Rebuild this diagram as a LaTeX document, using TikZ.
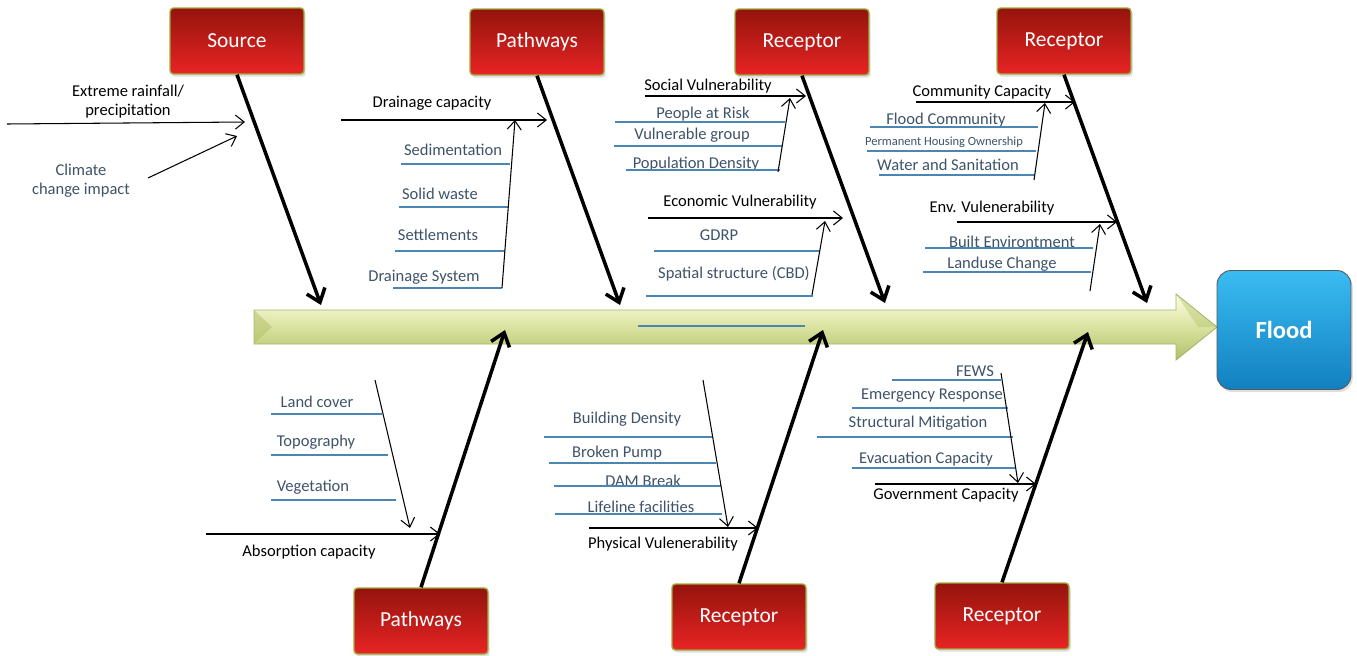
\documentclass[tikz,border=0pt]{standalone}
\usepackage{fontspec}
\setmainfont{Carlito}
\usetikzlibrary{arrows.meta,shadows}
\definecolor{boxtop}{RGB}{148,20,12}
\definecolor{boxbot}{RGB}{232,36,36}
\definecolor{boxrim}{RGB}{160,170,60}
\definecolor{subtext}{RGB}{62,82,104}
\definecolor{uline}{RGB}{74,134,180}
\definecolor{spinetop}{RGB}{255,255,228}
\definecolor{spinemid}{RGB}{218,226,160}
\definecolor{spinebot}{RGB}{176,192,104}
\definecolor{floodtop}{RGB}{58,188,242}
\definecolor{floodbot}{RGB}{18,128,192}

\begin{document}
\begin{tikzpicture}
[x=0.02cm, y=-0.02cm,
 redbox/.style={draw=boxrim, line width=0.8pt, rounded corners=2pt, top color=boxtop, bottom color=boxbot,
   minimum width=2.68cm, minimum height=1.32cm, inner sep=0pt, text=white,
   font=\fontsize{12.2}{14}\selectfont, drop shadow={opacity=0.25, shadow xshift=1pt, shadow yshift=-1.5pt}},
 cat/.style={font=\fontsize{9.4}{11}\selectfont, inner sep=0pt, align=center, yshift=-0.8pt},
 item/.style={cat, text=subtext},
 uline/.style={draw=uline, line width=0.7pt},
 bone/.style={line width=2pt, -{Straight Barb[length=7pt, width=11pt, line width=2pt]}},
 sub/.style={line width=0.6pt, -{Straight Barb[length=5pt, width=8pt]}}
 ]
\useasboundingbox (0,0) rectangle (1357,656);
% spine
\draw [draw=spinebot!80!gray, line width=0.5pt, top color=spinetop, bottom color=spinebot, middle color=spinemid]
  (254,310) -- (1176,310) -- (1176,294) -- (1217,327) -- (1176,360) -- (1176,344) -- (254,344) -- cycle;
\fill [spinebot, opacity=0.5] (254,310) -- (272,327) -- (254,344) -- cycle;
\fill [spinebot, opacity=0.4] (1176,294) -- (1198,327) -- (1217,327) -- cycle;
\draw [uline] (638,326) -- (805,326);
\node [draw=gray!70!black, line width=0.5pt, rounded corners=8pt, top color=floodtop, bottom color=floodbot,
  minimum width=2.68cm, minimum height=2.38cm, text=white, font=\fontsize{14}{16}\selectfont\bfseries,
  drop shadow={opacity=0.25, shadow xshift=1pt, shadow yshift=-1.5pt}] (flood) at (1284,330) {Flood};
% cause boxes
\node [redbox] (src) at (237,41) {Source};
\node [redbox] (pwt) at (537,42) {Pathways};
\node [redbox] (rct1) at (802,42) {Receptor};
\node [redbox] (rct2) at (1064,41) {Receptor};
\node [redbox] (pwb) at (421,621) {Pathways};
\node [redbox] (rcb1) at (739,617) {Receptor};
\node [redbox] (rcb2) at (1002,616) {Receptor};
\coordinate (srcend) at (321,305);
\coordinate (pwtend) at (620,305);
\coordinate (rct1end) at (885,303);
\coordinate (rct2end) at (1147,303);
\coordinate (pwbend) at (505,330);
\coordinate (rcb1end) at (823,330);
\coordinate (rcb2end) at (1088,332);
\draw [bone] (src.south) -- (srcend);
\draw [bone] (pwt.south) -- (pwtend);
\draw [bone] (rct1.south) -- (rct1end);
\draw [bone] (rct2.south) -- (rct2end);
\draw [bone] (pwb.north) -- (pwbend);
\draw [bone] (rcb1.north) -- (rcb1end);
\draw [bone] (rcb2.north) -- (rcb2end);
% source
\node [cat] (rain) at (128,100) {Extreme rainfall/\\precipitation};
\node [item] (climate) at (81,179) {Climate\\change impact};
\coordinate (rain0) at (7,124);
\coordinate (rain1) at (245,122);
\coordinate (clim0) at (148,178);
\coordinate (clim1) at (237,136);
\draw [sub] (rain0) -- (rain1);
\draw [sub] (clim0) -- (clim1);
% pathways top
\node [cat] (drcap) at (432,102) {Drainage capacity};
\coordinate (drcap0) at (341,120);
\coordinate (drcap1) at (547,120);
\draw [sub] (drcap0) -- (drcap1);
\node [item] (sed) at (453,148) {Sedimentation};
\node [item] (solid) at (440,192) {Solid waste};
\node [item] (settle) at (438,233) {Settlements};
\node [item] (drsys) at (424,276) {Drainage System};
\draw [uline] (401,164) -- (510,164);
\draw [uline] (399,207) -- (508,207);
\draw [uline] (395,251) -- (505,251);
\draw [uline] (393,288) -- (502,288);
\coordinate (dr0) at (502,288);
\coordinate (dr1) at (515,120);
\draw [sub] (dr0) -- (dr1);
% receptor top
\node [cat] (social) at (708,85) {Social Vulnerability};
\coordinate (soc0) at (645,96);
\coordinate (soc1) at (806,96);
\draw [sub] (soc0) -- (soc1);
\node [item] (risk) at (703,113) {People at Risk};
\node [item] (vgroup) at (692,134) {Vulnerable group};
\node [item] (popden) at (696,163) {Population Density};
\draw [uline] (615,122) -- (785,122);
\draw [uline] (614,146) -- (782,146);
\draw [uline] (626,170) -- (780,170);
\coordinate (sv0) at (778,172);
\coordinate (sv1) at (790,98);
\draw [sub] (sv0) -- (sv1);
\node [cat] (econ) at (740,201) {Economic Vulnerability};
\coordinate (eco0) at (648,218);
\coordinate (eco1) at (843,218);
\draw [sub] (eco0) -- (eco1);
\node [item] (gdrp) at (719,234) {GDRP};
\node [item] (cbd) at (734,272) {Spatial structure (CBD)};
\draw [uline] (654,251) -- (820,251);
\draw [uline] (646,296) -- (813,296);
\coordinate (ev0) at (812,295);
\coordinate (ev1) at (825,221);
\draw [sub] (ev0) -- (ev1);
% receptor top right
\node [cat] (comm) at (982,91) {Community Capacity};
\coordinate (com0) at (916,102);
\coordinate (com1) at (1075,102);
\draw [sub] (com0) -- (com1);
\node [item] (fcomm) at (946,119) {Flood Community};
\node [item, font=\fontsize{7.1}{8}\selectfont] (house) at (944,141) {Permanent Housing Ownership};
\node [item] (water) at (948,163) {Water and Sanitation};
\draw [uline] (870,127) -- (1038,127);
\draw [uline] (867,151) -- (1036,151);
\draw [uline] (879,175) -- (1034,175);
\coordinate (cc0) at (1034,180);
\coordinate (cc1) at (1045,103);
\draw [sub] (cc0) -- (cc1);
\node [cat] (env) at (992,207) {Env. Vulenerability};
\coordinate (env0) at (957,222);
\coordinate (env1) at (1117,222);
\draw [sub] (env0) -- (env1);
\node [item] (built) at (1012,240) {Built Environtment};
\node [item] (landuse) at (1002,263) {Landuse Change};
\draw [uline] (925,248) -- (1093,248);
\draw [uline] (923,272) -- (1091,272);
\coordinate (nv0) at (1090,291);
\coordinate (nv1) at (1100,224);
\draw [sub] (nv0) -- (nv1);
% pathways bottom
\node [item] (lcover) at (317,400) {Land cover};
\node [item] (topo) at (316,441) {Topography};
\node [item] (veg) at (313,486) {Vegetation};
\draw [uline] (271,414) -- (382,414);
\draw [uline] (271,455) -- (388,455);
\draw [uline] (271,500) -- (396,500);
\coordinate (ab0) at (375,380);
\coordinate (ab1) at (410,528);
\draw [sub] (ab0) -- (ab1);
\node [cat] (absorb) at (309,551) {Absorption capacity};
\coordinate (abs0) at (206,534);
\coordinate (abs1) at (440,534);
\draw [sub] (abs0) -- (abs1);
% receptor bottom
\node [item] (bden) at (627,418) {Building Density};
\node [item] (pump) at (617,452) {Broken Pump};
\node [item] (dam) at (643,479) {DAM Break};
\node [item] (life) at (641,505) {Lifeline facilities};
\draw [uline] (544,437) -- (712,437);
\draw [uline] (549,463) -- (716,463);
\draw [uline] (554,486) -- (721,486);
\draw [uline] (555,514) -- (722,514);
\coordinate (ph0) at (703,380);
\coordinate (ph1) at (728,527);
\draw [sub] (ph0) -- (ph1);
\node [cat] (phys) at (663,543) {Physical Vulenerability};
\coordinate (phy0) at (589,528);
\coordinate (phy1) at (758,528);
\draw [sub] (phy0) -- (phy1);
% receptor bottom right
\node [item] (fews) at (975,370) {FEWS};
\node [item] (emerg) at (932,394) {Emergency Response};
\node [item] (struct) at (918,422) {Structural Mitigation};
\node [item] (evac) at (926,458) {Evacuation Capacity};
\draw [uline] (892,380) -- (1001,380);
\draw [uline] (852,408) -- (1008,408);
\draw [uline] (817,437) -- (1013,437);
\draw [uline] (852,468) -- (1015,468);
\coordinate (gv0) at (1001,373);
\coordinate (gv1) at (1018,483);
\draw [sub] (gv0) -- (gv1);
\node [cat] (gov) at (946,494) {Government Capacity};
\coordinate (gov0) at (875,484);
\coordinate (gov1) at (1036,484);
\draw [sub] (gov0) -- (gov1);
\end{tikzpicture}
\end{document}
